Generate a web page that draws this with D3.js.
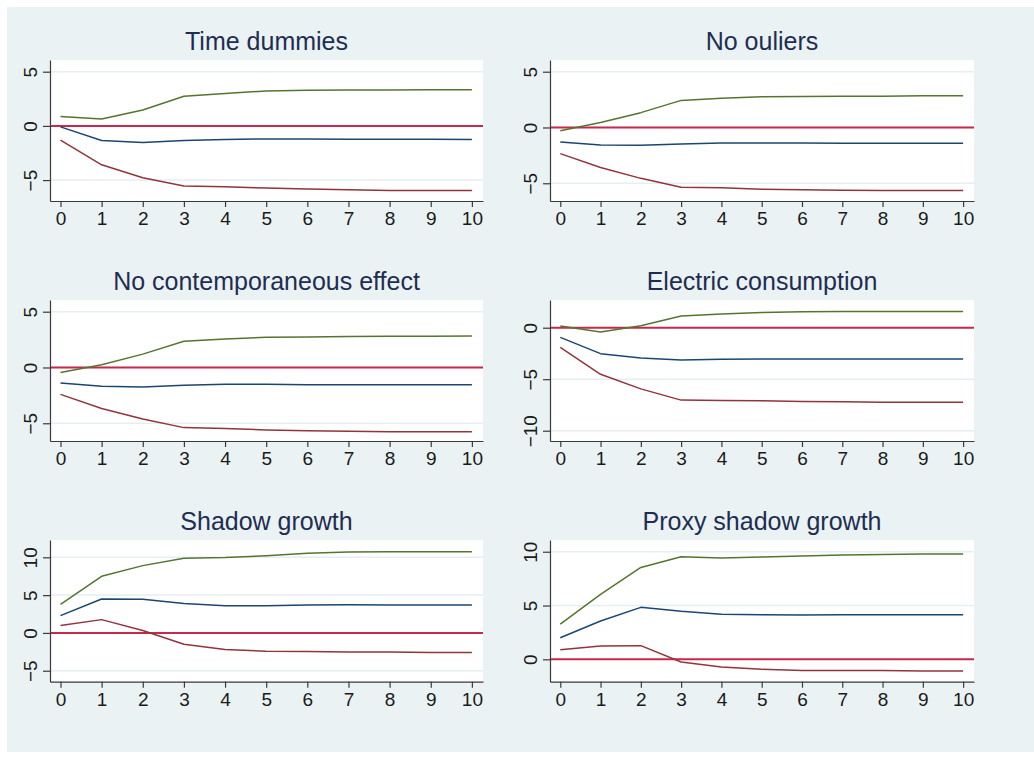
<!DOCTYPE html>
<html>
<head>
<meta charset="utf-8">
<script src="https://cdn.jsdelivr.net/npm/d3@7"></script>
<style>
  body { margin: 0; background: #fff; }
  svg { display: block; }
  .tick text { font-family: "Liberation Sans", Arial, sans-serif; fill: #1a1a1a; }
</style>
</head>
<body>
<svg id="chart" width="1034" height="757"></svg>
<script>
// impulse responses over 10 periods, with lower / upper bands
const horizons = [0, 1, 2, 3, 4, 5, 6, 7, 8, 9, 10];

const titles = [
    "Time dummies", "No ouliers",
    "No contemporaneous effect", "Electric consumption",
    "Shadow growth", "Proxy shadow growth"
];

const upper = [
    [0.86, 0.64, 1.47, 2.73, 3.00, 3.22, 3.28, 3.31, 3.31, 3.34, 3.34],
    [-0.30, 0.44, 1.33, 2.43, 2.63, 2.75, 2.78, 2.81, 2.81, 2.84, 2.84],
    [-0.45, 0.24, 1.20, 2.35, 2.56, 2.71, 2.74, 2.77, 2.80, 2.80, 2.83],
    [0.16, -0.42, 0.19, 1.13, 1.32, 1.48, 1.55, 1.58, 1.58, 1.58, 1.58],
    [3.79, 7.49, 8.90, 9.87, 9.96, 10.22, 10.53, 10.70, 10.75, 10.75, 10.75],
    [3.28, 6.04, 8.54, 9.54, 9.41, 9.50, 9.60, 9.69, 9.75, 9.78, 9.78]
];

const irf = [
    [-0.09, -1.35, -1.53, -1.35, -1.26, -1.20, -1.20, -1.23, -1.23, -1.23, -1.26],
    [-1.30, -1.57, -1.60, -1.48, -1.39, -1.39, -1.39, -1.42, -1.42, -1.42, -1.42],
    [-1.39, -1.69, -1.75, -1.60, -1.51, -1.51, -1.54, -1.54, -1.54, -1.54, -1.54],
    [-0.94, -2.52, -2.94, -3.13, -3.06, -3.03, -3.03, -3.03, -3.03, -3.03, -3.03],
    [2.29, 4.49, 4.45, 3.88, 3.61, 3.61, 3.70, 3.74, 3.70, 3.70, 3.70],
    [2.01, 3.56, 4.83, 4.46, 4.18, 4.15, 4.12, 4.15, 4.15, 4.15, 4.15]
];

const lower = [
    [-1.32, -3.59, -4.79, -5.55, -5.61, -5.74, -5.83, -5.89, -5.95, -5.95, -5.95],
    [-2.34, -3.58, -4.56, -5.36, -5.41, -5.53, -5.59, -5.62, -5.65, -5.65, -5.65],
    [-2.41, -3.67, -4.61, -5.39, -5.48, -5.60, -5.66, -5.72, -5.75, -5.75, -5.75],
    [-1.90, -4.52, -5.94, -7.03, -7.06, -7.10, -7.16, -7.19, -7.23, -7.23, -7.23],
    [0.97, 1.76, 0.31, -1.50, -2.20, -2.42, -2.47, -2.51, -2.51, -2.60, -2.60],
    [0.90, 1.24, 1.27, -0.25, -0.71, -0.93, -1.05, -1.05, -1.05, -1.08, -1.08]
];

const yTicks = [
    [-5, 0, 5], [-5, 0, 5],
    [-5, 0, 5], [-10, -5, 0],
    [-5, 0, 5, 10], [0, 5, 10]
];

const yDomains = [
    [-6.93, 6.08], [-6.59, 6.05],
    [-6.59, 6.05], [-11.0, 2.69],
    [-6.45, 12.29], [-2.08, 11.09]
];

// plot regions of the six panels (pixels)
const frames = [
    { left: 50, top: 60, width: 433, height: 141 },
    { left: 550, top: 60, width: 424, height: 141 },
    { left: 50, top: 300, width: 433, height: 141 },
    { left: 550, top: 300, width: 424, height: 141 },
    { left: 50, top: 540, width: 433, height: 141.7 },
    { left: 550, top: 540, width: 424, height: 141.7 }
];

const colors = {
    upper: "#55752f",
    irf: "#1a476f",
    lower: "#90353b",
    zero: "#c8284c",
    grid: "#e6eef1",
    axis: "#3a3a3a",
    title: "#1f2d52"
};

const svg = d3.select("#chart");

svg.append("rect")
    .attr("x", 7).attr("y", 7)
    .attr("width", 1027).attr("height", 745)
    .attr("fill", "#eaf2f3");

frames.forEach((f, i) => {
    const g = svg.append("g").attr("transform", `translate(${f.left},${f.top})`);

    const x = d3.scaleLinear().domain([-0.255, 10.27]).range([0, f.width]);
    const y = d3.scaleLinear().domain(yDomains[i]).range([f.height, 0]);

    g.append("rect")
        .attr("width", f.width).attr("height", f.height)
        .attr("fill", "#fff");

    g.selectAll(".grid")
        .data(yTicks[i])
        .enter().append("line")
        .attr("class", "grid")
        .attr("x1", 0).attr("x2", f.width)
        .attr("y1", d => y(d)).attr("y2", d => y(d))
        .attr("stroke", colors.grid)
        .attr("stroke-width", 1.5);

    g.append("line")
        .attr("x1", 0).attr("x2", f.width)
        .attr("y1", y(0)).attr("y2", y(0))
        .attr("stroke", colors.zero)
        .attr("stroke-width", 2);

    const line = d3.line()
        .x((d, k) => x(horizons[k]))
        .y(d => y(d));

    [["upper", upper], ["irf", irf], ["lower", lower]].forEach(([key, series]) => {
        g.append("path")
            .datum(series[i])
            .attr("fill", "none")
            .attr("stroke", colors[key])
            .attr("stroke-width", 1.5)
            .attr("stroke-linejoin", "round")
            .attr("d", line);
    });

    const xAxis = g.append("g")
        .attr("transform", `translate(0,${f.height})`)
        .call(d3.axisBottom(x).tickValues(horizons).tickSize(6).tickSizeOuter(0).tickPadding(5));

    const yAxis = g.append("g")
        .call(d3.axisLeft(y).tickValues(yTicks[i]).tickSize(7).tickSizeOuter(0));

    [xAxis, yAxis].forEach(a => {
        a.select(".domain").attr("stroke", colors.axis).attr("stroke-width", 1.2);
        a.selectAll(".tick line").attr("stroke", colors.axis).attr("stroke-width", 1.2);
        a.selectAll(".tick text").style("font-size", "19px");
    });

    yAxis.selectAll(".tick text")
        .attr("x", null).attr("dy", null)
        .attr("text-anchor", "middle")
        .attr("transform", "translate(-13,0) rotate(-90)");

    svg.append("text")
        .attr("x", f.left + f.width / 2)
        .attr("y", f.top - 10)
        .attr("text-anchor", "middle")
        .style("font-family", "'Liberation Sans', Arial, sans-serif")
        .style("font-size", "25px")
        .attr("fill", colors.title)
        .text(titles[i]);
});
</script>
</body>
</html>
